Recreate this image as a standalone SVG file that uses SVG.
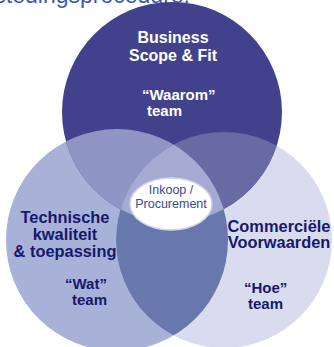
<svg xmlns="http://www.w3.org/2000/svg" width="334" height="347" viewBox="0 0 334 347">
  <style>
    .t { font-family: "Liberation Sans", Arial, sans-serif; font-weight: bold; }
    .w { fill: #ffffff; }
    .n { fill: #17186c; }
    .c { font-family: "Liberation Sans", Arial, sans-serif; fill: #3a4a8e; font-size: 12.5px; text-anchor: middle; }
    .mid { text-anchor: middle; }
  </style>
  <defs>
    <clipPath id="clipTop"><circle cx="172" cy="112" r="110"/></clipPath>
    <clipPath id="clipLeft"><circle cx="117" cy="240" r="111"/></clipPath>
  </defs>
  <rect width="334" height="347" fill="#ffffff"/>
  <text x="190" y="3" font-family="Liberation Sans, Arial, sans-serif" font-size="23" fill="#3a5cae" text-anchor="end">Aanbestedingsprocedure:</text>

  <g id="node-technisch">
    <circle cx="117" cy="240" r="111" fill="#a8b2d8"/>
  </g>
  <g id="node-commercieel">
    <circle cx="224" cy="240" r="108" fill="#d8dcee"/>
  </g>
  <g id="node-business">
    <circle cx="172" cy="112" r="110" fill="#42428c"/>
  </g>

  <g id="overlaps">
    <g clip-path="url(#clipTop)">
      <circle cx="117" cy="240" r="111" fill="#8f96c6"/>
      <circle cx="224" cy="240" r="108" fill="#686aa3"/>
    </g>
    <g clip-path="url(#clipLeft)">
      <circle cx="224" cy="240" r="108" fill="#6878ad"/>
    </g>
    <g clip-path="url(#clipTop)">
      <g clip-path="url(#clipLeft)">
        <circle cx="224" cy="240" r="108" fill="#a5aad2"/>
      </g>
    </g>
  </g>

  <g id="connectors"></g>

  <g id="node-inkoop">
    <ellipse cx="171" cy="204" rx="41" ry="26" fill="#ffffff" stroke="#cfd3ea" stroke-width="1.5"/>
    <text class="c" x="171" y="194">Inkoop /</text>
    <text class="c" x="171" y="208">Procurement</text>
  </g>

  <g id="label-business" class="t w">
    <text class="mid" x="173" y="43" font-size="16">Business</text>
    <text class="mid" x="173" y="61" font-size="16">Scope &amp; Fit</text>
    <text x="142" y="100" font-size="15">“Waarom”</text>
    <text x="147" y="116" font-size="15">team</text>
  </g>

  <g id="label-technisch" class="t n">
    <text class="mid" x="65" y="223" font-size="16.4">Technische</text>
    <text class="mid" x="65" y="240" font-size="16.4">kwaliteit</text>
    <text class="mid" x="65" y="257" font-size="16.4">&amp; toepassing</text>
    <text x="65" y="289" font-size="15">“Wat”</text>
    <text x="72" y="305" font-size="15">team</text>
  </g>

  <g id="label-commercieel" class="t n">
    <text class="mid" x="279" y="231.5" font-size="16.4">Commerciële</text>
    <text class="mid" x="279" y="248" font-size="16.4">Voorwaarden</text>
    <text x="244" y="293" font-size="15">“Hoe”</text>
    <text x="248" y="309" font-size="15">team</text>
  </g>
</svg>
